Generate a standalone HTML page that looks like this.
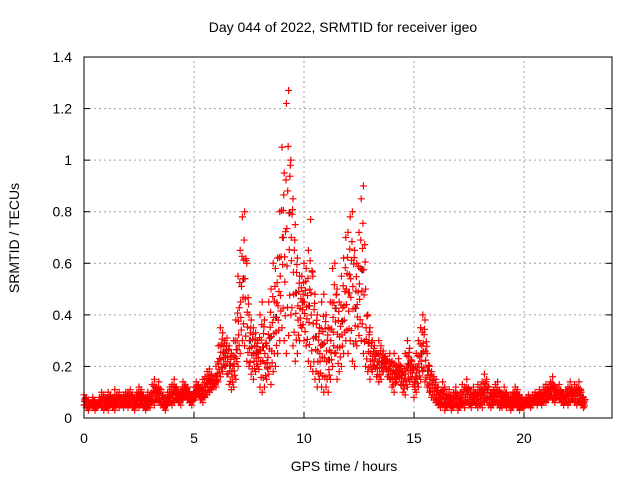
<!DOCTYPE html>
<html><head><meta charset="utf-8"><style>
body{margin:0;background:#fff;width:640px;height:480px;overflow:hidden}
svg text{font-family:"Liberation Sans",sans-serif;font-size:14px;fill:#000}
</style></head><body>
<svg id="chart" width="640" height="480" xmlns="http://www.w3.org/2000/svg">
<rect width="640" height="480" fill="#fff"/>
<g id="grid"></g>
<g id="marks"></g>
<rect x="84" y="57" width="528" height="361" fill="none" stroke="#000" stroke-width="1"/>
<g id="ticks"></g>
<text x="343" y="32" text-anchor="middle">Day 044 of 2022, SRMTID for receiver igeo</text>
<text x="344" y="471" text-anchor="middle">GPS time / hours</text>
<text x="19" y="238" text-anchor="middle" transform="rotate(-90 19 238)">SRMTID / TECUs</text>
</svg>
<script>
const xTicks=[0,5,10,15,20];
const yTicks=[0,0.2,0.4,0.6,0.8,1,1.2,1.4];
const yTickLabels=["0","0.2","0.4","0.6","0.8","1","1.2","1.4"];
const tStart=0, tStep=0.1;
const lo=[.05,.04,.03,.05,.04,.03,.04,.05,.04,.03,
.04,.03,.05,.04,.03,.05,.04,.05,.04,.05,
.04,.05,.04,.03,.05,.04,.05,.04,.03,.04,
.04,.06,.05,.07,.06,.05,.04,.03,.05,.06,
.05,.06,.07,.06,.05,.07,.08,.07,.06,.05,
.07,.08,.09,.07,.06,.08,.09,.10,.11,.12,
.12,.14,.16,.18,.20,.17,.13,.11,.12,.15,
.20,.25,.30,.28,.22,.20,.17,.15,.18,.20,
.12,.10,.12,.15,.17,.13,.18,.20,.25,.30,
.35,.30,.25,.32,.40,.28,.22,.25,.30,.35,
.30,.28,.22,.20,.18,.15,.12,.15,.12,.10,
.12,.10,.15,.20,.25,.15,.18,.20,.25,.30,
.25,.30,.22,.20,.28,.32,.30,.25,.20,.18,
.15,.18,.20,.16,.14,.15,.18,.20,.16,.15,
.12,.10,.14,.16,.13,.10,.09,.12,.14,.15,
.08,.10,.12,.15,.18,.14,.12,.10,.08,.07,
.06,.05,.04,.05,.03,.04,.05,.03,.04,.05,
.03,.04,.05,.04,.06,.05,.04,.06,.05,.04,
.05,.04,.06,.07,.05,.04,.05,.06,.05,.04,
.04,.05,.04,.05,.03,.04,.05,.04,.03,.04,
.04,.05,.05,.04,.05,.06,.05,.06,.05,.06,
.06,.07,.08,.07,.06,.08,.07,.06,.05,.06,
.05,.06,.07,.06,.05,.06,.05,.04];
const hi=[.09,.08,.07,.06,.08,.07,.06,.08,.10,.09,
.08,.10,.09,.08,.11,.09,.10,.08,.09,.10,
.10,.11,.09,.08,.10,.12,.11,.09,.08,.10,
.09,.13,.15,.12,.14,.11,.09,.08,.10,.12,
.13,.15,.12,.10,.11,.14,.13,.12,.10,.09,
.12,.14,.13,.12,.15,.16,.18,.19,.17,.15,
.20,.28,.35,.33,.30,.31,.28,.25,.30,.38,
.55,.65,.78,.80,.60,.40,.38,.35,.33,.30,
.40,.45,.38,.28,.45,.50,.60,.58,.62,.80,
1.05,.95,1.22,1.27,1.00,.85,.75,.62,.55,.55,
.60,.58,.65,.77,.55,.48,.40,.35,.45,.48,
.40,.35,.45,.58,.60,.50,.45,.55,.62,.70,
.72,.78,.80,.65,.60,.72,.85,.90,.50,.40,
.35,.30,.28,.25,.30,.28,.26,.24,.22,.25,
.22,.25,.20,.23,.20,.18,.25,.30,.27,.22,
.20,.25,.30,.35,.40,.38,.25,.20,.18,.16,
.15,.12,.10,.14,.12,.09,.11,.08,.10,.12,
.08,.10,.13,.12,.15,.11,.09,.12,.10,.13,
.12,.14,.17,.15,.12,.10,.11,.13,.14,.10,
.09,.12,.10,.08,.09,.10,.12,.11,.09,.08,
.07,.08,.09,.08,.09,.10,.09,.11,.10,.12,
.13,.12,.14,.16,.12,.11,.13,.10,.09,.11,
.12,.14,.11,.13,.12,.14,.10,.08];
const X0=84,X1=612,Y0=418,Y1=57,XMAX=24,YMAX=1.4;
const xs=v=>X0+(X1-X0)*v/XMAX;
const ys=v=>Y0-(Y0-Y1)*v/YMAX;
const NS="http://www.w3.org/2000/svg";
const grid=document.getElementById('grid'),ticks=document.getElementById('ticks'),marks=document.getElementById('marks');
function mk(tag,attrs,parent){const e=document.createElementNS(NS,tag);for(const k in attrs)e.setAttribute(k,attrs[k]);parent.appendChild(e);return e;}
xTicks.forEach(t=>{
  const x=xs(t);
  if(t>0){const g=mk('line',{x1:x,x2:x,y1:Y0,y2:Y1,stroke:'#a0a0a0','stroke-dasharray':'2,3'},grid);
  
  }
  mk('line',{x1:x,x2:x,y1:Y0,y2:Y0-6,stroke:'#000'},ticks);
  const l=mk('text',{x:x,y:443,'text-anchor':'middle'},ticks);l.textContent=t;
  
  
});
yTicks.forEach((t,i)=>{
  const y=ys(t);
  if(t>0&&t<1.4){const g=mk('line',{x1:X0,x2:X1,y1:y,y2:y,stroke:'#a0a0a0','stroke-dasharray':'2,3'},grid);
  
  }
  mk('line',{x1:X0,x2:X0+6,y1:y,y2:y,stroke:'#000'},ticks);
  mk('line',{x1:X1,x2:X1-6,y1:y,y2:y,stroke:'#000'},ticks);
  const l=mk('text',{x:72,y:y+5,'text-anchor':'end'},ticks);l.textContent=yTickLabels[i];
  
  
});
function plus(t,v,color,name){
  const x=xs(t),y=ys(v);
  const p=mk('path',{d:`M${x-3.5} ${y}H${x+3.5}M${x} ${y-3.5}V${y+3.5}`,stroke:color,'stroke-width':1.2,fill:'none'},marks);
  
  
}
lo.forEach((l,i)=>{
  if(i%3!==0)return;
  const h=hi[i],t=tStart+i*tStep;
  plus(t+0.05,(l+h)/2,'#000','black-point');
});
lo.forEach((l,i)=>{
  const h=hi[i],t=tStart+i*tStep;
  const nl=i+1<lo.length?lo[i+1]:l, nh=i+1<hi.length?hi[i+1]:h;
  plus(t,l,'#f00','red-point');
  plus(t,h,'#f00','red-point');
  plus(t+0.03,l+(h-l)*0.35,'#f00','red-point');
  plus(t+0.06,l+(h-l)*0.65,'#f00','red-point');
  plus(t+0.05,(l+nl)/2+((h+nh)/2-(l+nl)/2)*0.15,'#f00','red-point');
  plus(t+0.08,(h+nh)/2-((h+nh)/2-(l+nl)/2)*0.2,'#f00','red-point');
  plus(t+0.02,l+(h-l)*0.5,'#f00','red-point');
});
</script>
</body></html>
